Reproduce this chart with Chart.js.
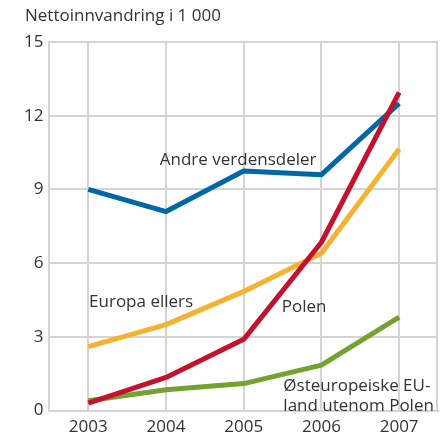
<!DOCTYPE html>
<html>
<head>
<meta charset="utf-8">
<script src="https://cdn.jsdelivr.net/npm/chart.js@4/dist/chart.umd.min.js"></script>
<style>
html,body{margin:0;padding:0;background:#fff;}
#wrap{width:448px;height:436px;position:relative;}
</style>
</head>
<body>
<div id="wrap"><canvas id="c" width="448" height="436"></canvas></div>
<script>
const years = ['2003','2004','2005','2006','2007'];
const andreVerdensdeler = [9.0, 8.1, 9.75, 9.6, 12.5];
const polen = [0.3, 1.35, 2.9, 6.85, 12.95];
const europaEllers = [2.6, 3.5, 4.85, 6.4, 10.65];
const osteuropeiske = [0.4, 0.85, 1.1, 1.85, 3.8];
const yTicks = [0, 3, 6, 9, 12, 15];
const titleText = 'Nettoinnvandring i 1 000';

const FONT = '"Open Sans", "Noto Sans", sans-serif';
const TXT = '#333333';

// label anchors: text lines, fractional category index, value
const seriesLabels = [
  {lines:['Andre verdensdeler'], x:0.92, y:10.2},
  {lines:['Europa ellers'], x:0.01, y:4.4},
  {lines:['Polen'], x:2.49, y:4.2},
  {lines:['Østeuropeiske EU-','land utenom Polen'], x:2.51, y:1.0}
];

const labelPlugin = {
  id:'labels',
  beforeDatasetsDraw(chart){
    const ctx = chart.ctx, a = chart.chartArea;
    ctx.save();
    ctx.strokeStyle = '#d4d4d4';
    ctx.lineWidth = 2;
    ctx.beginPath();
    ctx.moveTo(a.right-1, a.top);
    ctx.lineTo(a.right-1, a.bottom);
    ctx.stroke();
    ctx.restore();
  },
  afterDatasetsDraw(chart){
    const ctx = chart.ctx, xs = chart.scales.x, ys = chart.scales.y;
    ctx.save();
    ctx.font = '17px ' + FONT;
    ctx.fillStyle = TXT;
    ctx.textAlign = 'left';
    ctx.textBaseline = 'middle';
    const px0 = xs.getPixelForValue(0), px1 = xs.getPixelForValue(1);
    seriesLabels.forEach(l=>{
      const px = px0 + (px1-px0)*l.x;
      const py = ys.getPixelForValue(l.y);
      l.lines.forEach((t,i)=>{ ctx.fillText(t, px, py + i*20); });
    });
    ctx.restore();
  },
  afterDraw(chart){
    const ctx = chart.ctx;
    ctx.save();
    ctx.font = '17px ' + FONT;
    ctx.fillStyle = TXT;
    ctx.textAlign='left';
    ctx.textBaseline='middle';
    ctx.fillText(titleText, 25, 16);
    ctx.restore();
  }
};

function ds(label, data, color){
  return {label, data, borderColor:color, backgroundColor:color, borderWidth:5,
    pointRadius:0, tension:0, fill:false, borderCapStyle:'butt', borderJoinStyle:'round'};
}

new Chart(document.getElementById('c'), {
  type:'line',
  data:{
    labels: years,
    datasets:[
      ds('Polen', polen, '#c3112e'),
      ds('Andre verdensdeler', andreVerdensdeler, '#0067a6'),
      ds('Europa ellers', europaEllers, '#f5b130'),
      ds('Østeuropeiske EU-land utenom Polen', osteuropeiske, '#74a22f')
    ]
  },
  options:{
    responsive:false,
    animation:false,
    layout:{padding:{top:42, right:10, left:18, bottom:-7}},
    plugins:{legend:{display:false}, tooltip:{enabled:false}},
    scales:{
      x:{
        offset:true,
        grid:{offset:false, color:'#d4d4d4', lineWidth:2, drawTicks:false},
        border:{display:true, color:'#d4d4d4', width:2},
        ticks:{font:{family:FONT, size:17}, color:TXT, padding:6}
      },
      y:{
        min:0, max:15,
        afterBuildTicks(scale){ scale.ticks = yTicks.map(v=>({value:v})); },
        grid:{color:'#d4d4d4', lineWidth:2, drawTicks:false},
        border:{display:true, color:'#d4d4d4', width:2},
        ticks:{font:{family:FONT, size:17}, color:TXT, padding:6}
      }
    }
  },
  plugins:[labelPlugin]
});
</script>
</body>
</html>
